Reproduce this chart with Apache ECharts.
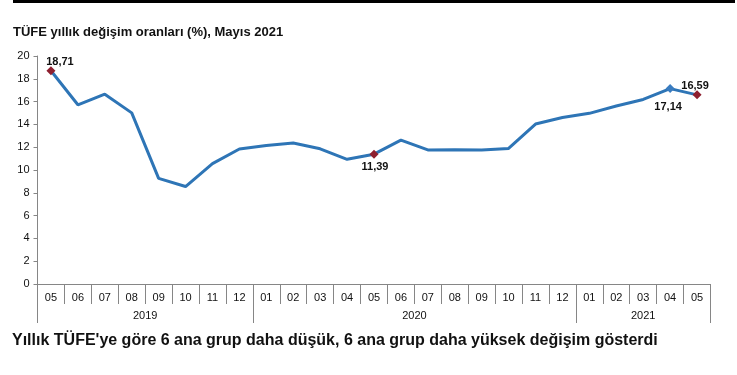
<!DOCTYPE html>
<html><head><meta charset="utf-8">
<script src="https://cdn.jsdelivr.net/npm/echarts@6/dist/echarts.min.js"></script>
<style>html,body{margin:0;padding:0;background:#fff}#c{width:737px;height:375px}</style>
</head><body><div id="c"></div>
<script>
const months = ['05','06','07','08','09','10','11','12','01','02','03','04','05','06','07','08','09','10','11','12','01','02','03','04','05'];
const values = [18.71,15.72,16.65,15.01,9.26,8.55,10.56,11.84,12.15,12.37,11.86,10.94,11.39,12.62,11.76,11.77,11.75,11.89,14.03,14.60,14.97,15.61,16.19,17.14,16.59];
const years = ['2019','2020','2021'];
const yearSpans = [8,12,5];
const yTicks = [0,2,4,6,8,10,12,14,16,18,20];
const labeled = {0:'top',12:'bottom',23:'bottom',24:'top'};
const title = 'TÜFE yıllık değişim oranları (%), Mayıs 2021';
const footer = "Yıllık TÜFE'ye göre 6 ana grup daha düşük, 6 ana grup daha yüksek değişim gösterdi";

const yearBounds = [0]; yearSpans.forEach(s => yearBounds.push(yearBounds[yearBounds.length-1]+s));
const yearCenters = yearSpans.map((s,i)=> yearBounds[i] + s/2);

const font = '"Liberation Sans", Arial, sans-serif';
const axisGray = '#868686';
const red = '#8E1F2F', blue = '#2E75B6';

const labelStyle = {
  0:  {distance:0, offset:[9,1]},
  12: {distance:3, offset:[1,0]},
  23: {distance:8, offset:[-2,0]},
  24: {distance:0, offset:[-2,1]}
};

const data = values.map((v,i) => {
  const d = {value: v};
  if (labeled[i] !== undefined) {
    const isRed = i !== 23;
    d.symbol = 'diamond';
    d.symbolSize = 9;
    d.itemStyle = {color: isRed ? red : '#3A7CC0'};
    d.label = {show:true, position: labeled[i], distance: labelStyle[i].distance, offset: labelStyle[i].offset,
      formatter: v.toFixed(2).replace('.', ','), fontWeight:'bold', fontSize:11, color:'#111', fontFamily: font};
  }
  return d;
});

const chart = echarts.init(document.getElementById('c'), null, {renderer:'canvas'});
chart.setOption({
  animation:false,
  textStyle:{fontFamily:font},
  title:[
    {text:title, left:8, top:21, textStyle:{fontSize:13, fontWeight:'bold', color:'#111', fontFamily:font}},
    {text:footer, left:7, top:328, textStyle:{fontSize:16, fontWeight:'bold', color:'#111', fontFamily:font}}
  ],
  graphic:[{type:'rect', shape:{x:13, y:0, width:722, height:3}, style:{fill:'#000'}}],
  grid:{left:37.5, right:26.5, top:56, bottom:91},
  xAxis:[
    {type:'category', data:months, boundaryGap:true,
     axisLine:{show:true, lineStyle:{color:axisGray, width:1}},
     axisTick:{show:true, interval:0, length:20, lineStyle:{color:axisGray}},
     axisLabel:{interval:0, margin:8, fontSize:11, color:'#111', fontFamily:font}},
    {type:'value', min:0, max:months.length, position:'bottom',
     axisLine:{show:false},
     splitLine:{show:false},
     axisTick:{show:true, customValues:yearBounds, length:39, lineStyle:{color:axisGray}},
     axisLabel:{customValues:yearCenters, margin:26, fontSize:11, color:'#111', fontFamily:font,
       formatter:(v)=>{const i=yearCenters.indexOf(v); return i>=0?years[i]:'';}}}
  ],
  yAxis:{type:'value', min:0, max:20, interval:2,
    axisLine:{show:true, lineStyle:{color:axisGray}},
    axisTick:{show:true, length:4, lineStyle:{color:axisGray}},
    splitLine:{show:false},
    axisLabel:{margin:8, fontSize:11, color:'#111', fontFamily:font,
      formatter:(v)=> yTicks.includes(v)? String(v):''}},
  series:[{type:'line', xAxisIndex:0, data:data, symbol:'none', showSymbol:true,
    lineStyle:{color:blue, width:3}, itemStyle:{color:blue}}]
});
</script></body></html>
